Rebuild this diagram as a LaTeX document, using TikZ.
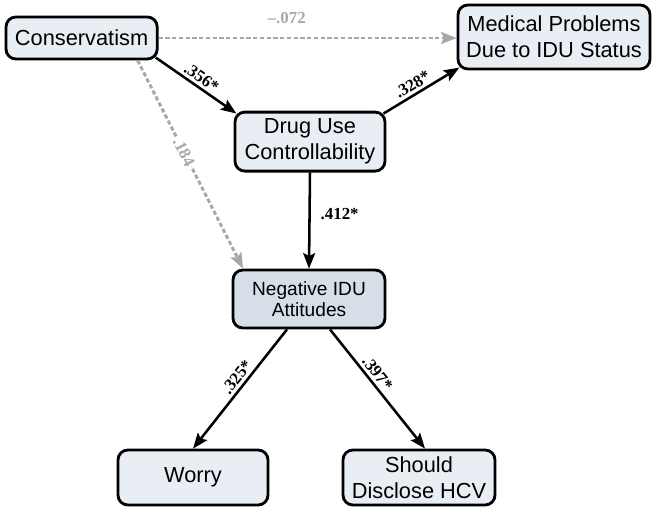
\documentclass[tikz,border=0pt]{standalone}
\usepackage{fontspec}
\setmainfont{Liberation Serif}
\setsansfont{Liberation Sans}
\usepackage{xcolor}
\usetikzlibrary{arrows.meta}
\definecolor{boxfill}{HTML}{E9EEF4}
\definecolor{boxdark}{HTML}{D6DEE8}
\definecolor{pathgrey}{HTML}{A8A8A8}

\tikzset{
  var/.style={draw=black, line width=2pt, rounded corners=7pt, fill=boxfill,
    align=center, inner sep=0pt,
    font=\sffamily\fontsize{15.5}{18.5}\selectfont},
  sig/.style={-{Stealth[length=11pt,width=8.5pt,inset=2pt]}, line width=1.8pt},
  nonsig/.style={sig, draw=pathgrey, line width=2.1pt, dash pattern=on 3pt off 1.8pt},
  coef/.style={font=\bfseries\fontsize{12}{14}\selectfont, inner sep=2pt}
}

\begin{document}
\begin{tikzpicture}
  \useasboundingbox (0,0) rectangle (16.325,12.75);

  % variables
  \node[var, minimum width=3.78cm, minimum height=1.05cm] (cons) at (2.04,11.8)
    {Conservatism};
  \node[var, minimum width=4.8cm, minimum height=1.6cm] (med) at (13.85,11.825)
    {Medical Problems\\Due to IDU Status};
  \node[var, minimum width=3.75cm, minimum height=1.475cm] (drug) at (7.75,9.21)
    {Drug Use\\Controllability};
  \node[var, fill=boxdark, font=\sffamily\fontsize{13.6}{15}\selectfont,
    minimum width=3.8cm, minimum height=1.45cm] (neg) at (7.725,5.275)
    {Negative IDU\\Attitudes};
  \node[var, minimum width=3.75cm, minimum height=1.375cm] (worry) at (4.825,0.8125)
    {Worry};
  \node[var, minimum width=3.8cm, minimum height=1.375cm] (hcv) at (10.475,0.8125)
    {Should\\Disclose HCV};

  % paths
  \draw[nonsig] (cons.east) -- (cons.east -| med.west)
    node[coef, text=pathgrey, pos=0.43, above=7pt] {--.072};
  \draw[sig] ([shift={(-2pt,2pt)}]cons.south east) -- ([shift={(2pt,-2pt)}]drug.north west)
    node[coef, midway, sloped, above] {.356*};
  \draw[sig] ([shift={(-2pt,-2pt)}]drug.north east) -- ([shift={(2pt,2pt)}]med.south west)
    node[coef, pos=0.45, sloped, above] {.328*};
  \draw[nonsig] ([xshift=1.4cm]cons.south) -- ([xshift=-1.65cm]neg.north)
    node[coef, text=pathgrey, pos=0.44, sloped, fill=white, inner sep=1pt] {.184};
  \draw[sig] (drug.south) -- (neg.north)
    node[coef, pos=0.43, right=5pt] {.412*};
  \draw[sig] ([xshift=-0.55cm]neg.south) -- (worry.north)
    node[coef, pos=0.45, sloped, above] {.325*};
  \draw[sig] ([xshift=0.525cm]neg.south) -- ([xshift=0.15cm]hcv.north)
    node[coef, pos=0.42, sloped, above] {.397*};
\end{tikzpicture}
\end{document}
